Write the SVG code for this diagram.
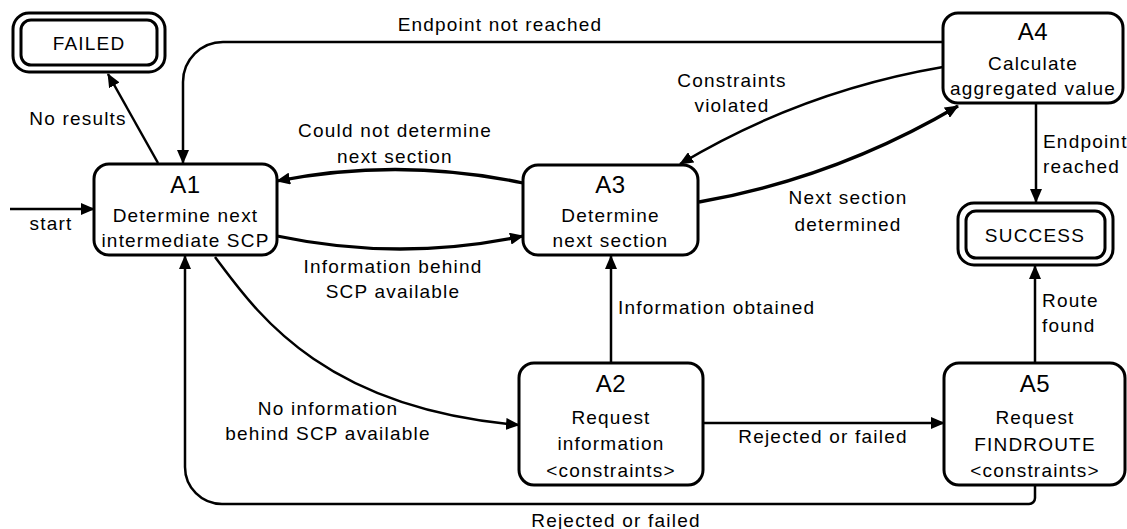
<svg xmlns="http://www.w3.org/2000/svg" width="1127" height="529" viewBox="0 0 1127 529">
  <style>
    text { font-family: "Liberation Sans", Arial, sans-serif; font-size: 19px; letter-spacing: 1.2px; fill: #000; }
    .title { font-size: 24px; letter-spacing: 0.5px; }
    .mid { text-anchor: middle; }
    .box { fill: #fff; stroke: #000; stroke-width: 3; }
    .edge { fill: none; stroke: #000; stroke-width: 2.5; marker-end: url(#ah); }
    .thick { stroke-width: 3.3; }
  </style>
  <defs>
    <marker id="ah" markerWidth="14" markerHeight="12" refX="13" refY="6" orient="auto" markerUnits="userSpaceOnUse">
      <path d="M0,0 L14,6 L0,12 z" fill="#000"/>
    </marker>
  </defs>

  <rect width="1127" height="529" fill="#fff"/>

  <!-- connectors with their labels -->
  <g id="connectors">
    <path class="edge" d="M10,209 H94"/>
    <text class="mid" x="51" y="230">start</text>

    <path class="edge" d="M158,163 L108,74"/>
    <text class="mid" x="78" y="125">No results</text>

    <path class="edge" d="M943,42 H223 A40,40 0 0 0 183,82 V163"/>
    <text class="mid" x="500" y="31">Endpoint not reached</text>

    <path class="edge thick" d="M523,183 Q400,157 277,181"/>
    <text class="mid" x="395" y="137">Could not determine</text>
    <text class="mid" x="395" y="163">next section</text>

    <path class="edge thick" d="M277,236 Q400,262 523,236"/>
    <text class="mid" x="393" y="273">Information behind</text>
    <text class="mid" x="393" y="298">SCP available</text>

    <path class="edge thick" d="M699,202 Q836,178 958,106"/>
    <text class="mid" x="848" y="204">Next section</text>
    <text class="mid" x="848" y="231">determined</text>

    <path class="edge" d="M943,67 Q802,91 680,164"/>
    <text class="mid" x="732" y="87">Constraints</text>
    <text class="mid" x="732" y="112">violated</text>

    <path class="edge" d="M1036,103 V202"/>
    <text x="1043" y="148">Endpoint</text>
    <text x="1043" y="173">reached</text>

    <path class="edge" d="M1035,363 V266"/>
    <text x="1042" y="307">Route</text>
    <text x="1042" y="332">found</text>

    <path class="edge" d="M611,363 V256"/>
    <text x="618" y="314">Information obtained</text>

    <path class="edge" d="M703,423 H944"/>
    <text class="mid" x="823" y="443">Rejected or failed</text>

    <path class="edge" d="M1035,485 V498 A6,6 0 0 1 1029,504 H222 A37,37 0 0 1 185,467 V256"/>
    <text class="mid" x="616" y="527">Rejected or failed</text>

    <path class="edge" d="M215,257 C255,310 320,408 519,425"/>
    <text class="mid" x="328" y="415">No information</text>
    <text class="mid" x="328" y="440">behind SCP available</text>
  </g>

  <!-- final states: double-bordered boxes -->
  <g id="failed">
    <rect class="box" x="13" y="13" width="152" height="59" rx="16"/>
    <rect class="box" x="21" y="20" width="136" height="45" rx="10"/>
    <text class="mid" x="89" y="50">FAILED</text>
  </g>

  <g id="success">
    <rect class="box" x="958" y="203" width="155" height="62" rx="16"/>
    <rect class="box" x="966" y="211" width="139" height="47" rx="10"/>
    <text class="mid" x="1035" y="242">SUCCESS</text>
  </g>

  <!-- activity states -->
  <g id="A1">
    <rect class="box" x="94" y="164" width="183" height="91" rx="15"/>
    <text class="mid title" x="185.5" y="193">A1</text>
    <text class="mid" x="185.5" y="222">Determine next</text>
    <text class="mid" x="185.5" y="247">intermediate SCP</text>
  </g>

  <g id="A3">
    <rect class="box" x="523" y="165" width="175" height="90" rx="15"/>
    <text class="mid title" x="610.5" y="193">A3</text>
    <text class="mid" x="610.5" y="222">Determine</text>
    <text class="mid" x="610.5" y="247">next section</text>
  </g>

  <g id="A4">
    <rect class="box" x="943" y="13" width="180" height="90" rx="15"/>
    <text class="mid title" x="1033" y="40">A4</text>
    <text class="mid" x="1033" y="70">Calculate</text>
    <text class="mid" x="1033" y="95">aggregated value</text>
  </g>

  <g id="A2">
    <rect class="box" x="519" y="363" width="184" height="122" rx="15"/>
    <text class="mid title" x="611" y="392">A2</text>
    <text class="mid" x="611" y="424">Request</text>
    <text class="mid" x="611" y="450">information</text>
    <text class="mid" x="611" y="477">&lt;constraints&gt;</text>
  </g>

  <g id="A5">
    <rect class="box" x="944" y="363" width="181" height="122" rx="15"/>
    <text class="mid title" x="1035" y="392">A5</text>
    <text class="mid" x="1035" y="424">Request</text>
    <text class="mid" x="1035" y="451">FINDROUTE</text>
    <text class="mid" x="1035" y="477">&lt;constraints&gt;</text>
  </g>
</svg>
